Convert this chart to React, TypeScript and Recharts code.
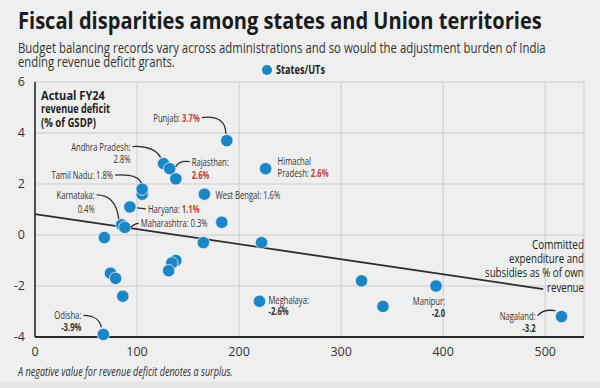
import { useLayoutEffect, useRef, useState } from 'react';
import { ScatterChart, Scatter, XAxis, YAxis, CartesianGrid, ReferenceLine } from 'recharts';

// committed expenditure & subsidies (% of own revenue) vs FY24 revenue deficit (% of GSDP)
const stateNames = [
  'Punjab', 'Andhra Pradesh', 'Rajasthan', '', 'Himachal Pradesh', '', 'Tamil Nadu', 'West Bengal',
  'Haryana', 'Karnataka', 'Maharashtra', '', '', '', '', '', '', '', '', '', '',
  'Odisha', 'Meghalaya', '', '', 'Manipur', 'Nagaland',
];
const committedShare = [188, 126, 132, 138, 226, 105, 105, 166, 93, 85, 88, 183, 68, 165, 222, 138, 134, 131, 74, 79, 86, 67, 220, 320, 341, 393, 516];
const revenueDeficit = [3.7, 2.8, 2.6, 2.2, 2.6, 1.6, 1.8, 1.6, 1.1, 0.4, 0.3, 0.5, -0.1, -0.3, -0.3, -1.0, -1.1, -1.4, -1.5, -1.7, -2.4, -3.9, -2.6, -1.8, -2.8, -2.0, -3.2];

const xTicks = [0, 100, 200, 300, 400, 500];
const yTicks = [-4, -2, 0, 2, 4, 6];
const trendX = [0, 498];
const trendY = [0.82, -2.12];

const FONT = "'Open Sans', 'Noto Sans', sans-serif";
const BLUE = '#1b86c6';
const RED = '#c2403a';
const INK = '#2b2b2b';
const SX = 0.67; // squeeze for the condensed annotation type

type Seg = { t: string; c?: string; b?: boolean };
type Note = { name: string; anchor: 'start' | 'end'; dx: number; dys: number[]; lines: Seg[][]; leader?: string };

const notes: Note[] = [
  { name: 'Punjab', anchor: 'end', dx: -27, dys: [-19], lines: [[{ t: 'Punjab: ' }, { t: '3.7%', c: RED, b: true }]], leader: 'M -25 -23 C -10 -25 -1 -20 -1 -7' },
  { name: 'Andhra Pradesh', anchor: 'end', dx: -33, dys: [-13, -1], lines: [[{ t: 'Andhra Pradesh:' }], [{ t: '2.8%' }]], leader: 'M -31 -17 C -16 -18 -6 -13 -3 -6' },
  { name: 'Rajasthan', anchor: 'start', dx: 22, dys: [-3, 10], lines: [[{ t: 'Rajasthan:' }], [{ t: '2.6%', c: RED, b: true }]], leader: 'M 20 -7 C 12 -8 8 -6 6 -2' },
  { name: 'Tamil Nadu', anchor: 'end', dx: -29, dys: [-10], lines: [[{ t: 'Tamil Nadu: 1.8%' }]], leader: 'M -27 -14 C -10 -15 -3 -12 -1 -6' },
  { name: 'Karnataka', anchor: 'end', dx: -27, dys: [-26, -12], lines: [[{ t: 'Karnataka:' }], [{ t: '0.4%' }]], leader: 'M -25 -30 C -12 -30 -5 -22 -3 -6' },
  { name: 'Haryana', anchor: 'start', dx: 18, dys: [6], lines: [[{ t: 'Haryana: ' }, { t: '1.1%', c: RED, b: true }]], leader: 'M 16 2 L 7 1' },
  { name: 'Maharashtra', anchor: 'start', dx: 16, dys: [0], lines: [[{ t: 'Maharashtra: 0.3%' }]], leader: 'M 14 -4 C 10 -4 8 -2 6 0' },
  { name: 'West Bengal', anchor: 'start', dx: 11, dys: [5], lines: [[{ t: 'West Bengal: 1.6%' }]] },
  { name: 'Himachal Pradesh', anchor: 'start', dx: 12, dys: [-4, 8], lines: [[{ t: 'Himachal' }], [{ t: 'Pradesh: ' }, { t: '2.6%', c: RED, b: true }]] },
  { name: 'Meghalaya', anchor: 'start', dx: 9, dys: [3, 14], lines: [[{ t: 'Meghalaya:' }], [{ t: '-2.6%', b: true }]] },
  { name: 'Odisha', anchor: 'end', dx: -22, dys: [-15, -3], lines: [[{ t: 'Odisha:' }], [{ t: '-3.9%', b: true }]], leader: 'M -20 -19 C -8 -19 -3 -13 -2 -7' },
  { name: 'Manipur', anchor: 'end', dx: 9, dys: [19, 31], lines: [[{ t: 'Manipur:' }], [{ t: '-2.0', b: true }]] },
  { name: 'Nagaland', anchor: 'end', dx: -26, dys: [3, 15], lines: [[{ t: 'Nagaland:' }], [{ t: '-3.2', b: true }]], leader: 'M -24 -1 C -20 -6 -13 -7 -6 -6' },
];

const data = stateNames.map((name, i) => ({ name, x: committedShare[i], y: revenueDeficit[i] }));

const Dot = (props: any) => (
  <circle cx={props.cx} cy={props.cy} r={6.2} fill={BLUE} stroke="#e8eef3" strokeWidth={0.8} />
);

const NoteShape = (props: any) => {
  const note = notes.find((n) => n.name === props.payload?.name);
  if (!note) return <g />;
  return (
    <g transform={`translate(${props.cx},${props.cy})`}>
      {note.leader && <path d={note.leader} fill="none" stroke={INK} strokeWidth={1.3} />}
      {note.lines.map((line, i) => (
        <text
          key={i}
          transform={`translate(${note.dx},${note.dys[i]}) scale(${SX},1)`}
          textAnchor={note.anchor}
          fontSize={11.4}
          fontFamily={FONT}
          fill="#333"
        >
          {line.map((s, j) => (
            <tspan key={j} fill={s.c || '#333'} fontWeight={s.b ? 700 : 400}>{s.t}</tspan>
          ))}
        </text>
      ))}
    </g>
  );
};

// squeezes a line of text horizontally to the given width
function FitText({ x, y, width, children, ...rest }: any) {
  const ref = useRef<SVGTextElement>(null);
  const [k, setK] = useState(1);
  useLayoutEffect(() => {
    const w = ref.current ? ref.current.getComputedTextLength() : 0;
    if (w > 0) setK(width / w);
  }, [width]);
  return (
    <text ref={ref} transform={`translate(${x},${y}) scale(${k},1)`} {...rest}>
      {children}
    </text>
  );
}

export default function App() {
  return (
    <div style={{ position: 'absolute', left: 0, top: 0, width: 600, height: 388, background: '#efefef', fontFamily: FONT }}>
      <ScatterChart width={600} height={388} margin={{ top: 82, right: 16, bottom: 26, left: 0 }}>
        <CartesianGrid stroke="#cdcdcd" strokeWidth={1} />
        <XAxis
          type="number"
          dataKey="x"
          domain={[0, 538]}
          ticks={xTicks}
          height={25}
          axisLine={{ stroke: INK, strokeWidth: 2 }}
          tickLine={false}
          tickSize={0}
          tickMargin={10}
          tick={{ fill: '#333', fontSize: 12.5, fontFamily: FONT }}
        />
        <YAxis
          type="number"
          dataKey="y"
          domain={[-4, 6]}
          ticks={yTicks}
          width={35}
          axisLine={{ stroke: INK, strokeWidth: 1.6 }}
          tickLine={false}
          tickSize={0}
          tickMargin={10}
          tick={{ fill: '#333', fontSize: 12.5, fontFamily: FONT }}
        />
        <ReferenceLine
          segment={[{ x: trendX[0], y: trendY[0] }, { x: trendX[1], y: trendY[1] }]}
          stroke={INK}
          strokeWidth={1.8}
        />
        <Scatter name="States/UTs" data={data} shape={Dot} isAnimationActive={false} />
        <Scatter name="labels" data={data} shape={NoteShape} isAnimationActive={false} />
      </ScatterChart>
      <svg width={600} height={388} style={{ position: 'absolute', left: 0, top: 0, pointerEvents: 'none' }} fontFamily={FONT}>
        <FitText x={18} y={29} width={524} fontSize={23} fontWeight={700} fill="#1a1a1a">
          Fiscal disparities among states and Union territories
        </FitText>
        <FitText x={18} y={53} width={528} fontSize={14} fill="#333">
          Budget balancing records vary across administrations and so would the adjustment burden of India
        </FitText>
        <FitText x={18} y={67} width={157} fontSize={14} fill="#333">
          ending revenue deficit grants.
        </FitText>
        <circle cx={267} cy={70} r={5} fill={BLUE} />
        <FitText x={276} y={74} width={49} fontSize={12} fontWeight={700} fill="#222">
          States/UTs
        </FitText>
        <g fontSize={12} fontWeight={700} fill="#222">
          <FitText x={41} y={100} width={64}>Actual FY24</FitText>
          <FitText x={41} y={113} width={69}>revenue deficit</FitText>
          <FitText x={41} y={127} width={55}>(% of GSDP)</FitText>
        </g>
        <g fontSize={12.5} fill="#222">
          <FitText x={532} y={249} width={52}>Committed</FitText>
          <FitText x={509} y={263} width={75}>expenditure and</FitText>
          <FitText x={485} y={277} width={99}>subsidies as % of own</FitText>
          <FitText x={547} y={292} width={37}>revenue</FitText>
        </g>
        <FitText x={18} y={376} width={215} fontSize={12} fontStyle="italic" fill="#333">
          A negative value for revenue deficit denotes a surplus.
        </FitText>
        <rect x={0} y={382} width={600} height={6} fill="#e5e5e5" />
      </svg>
    </div>
  );
}
